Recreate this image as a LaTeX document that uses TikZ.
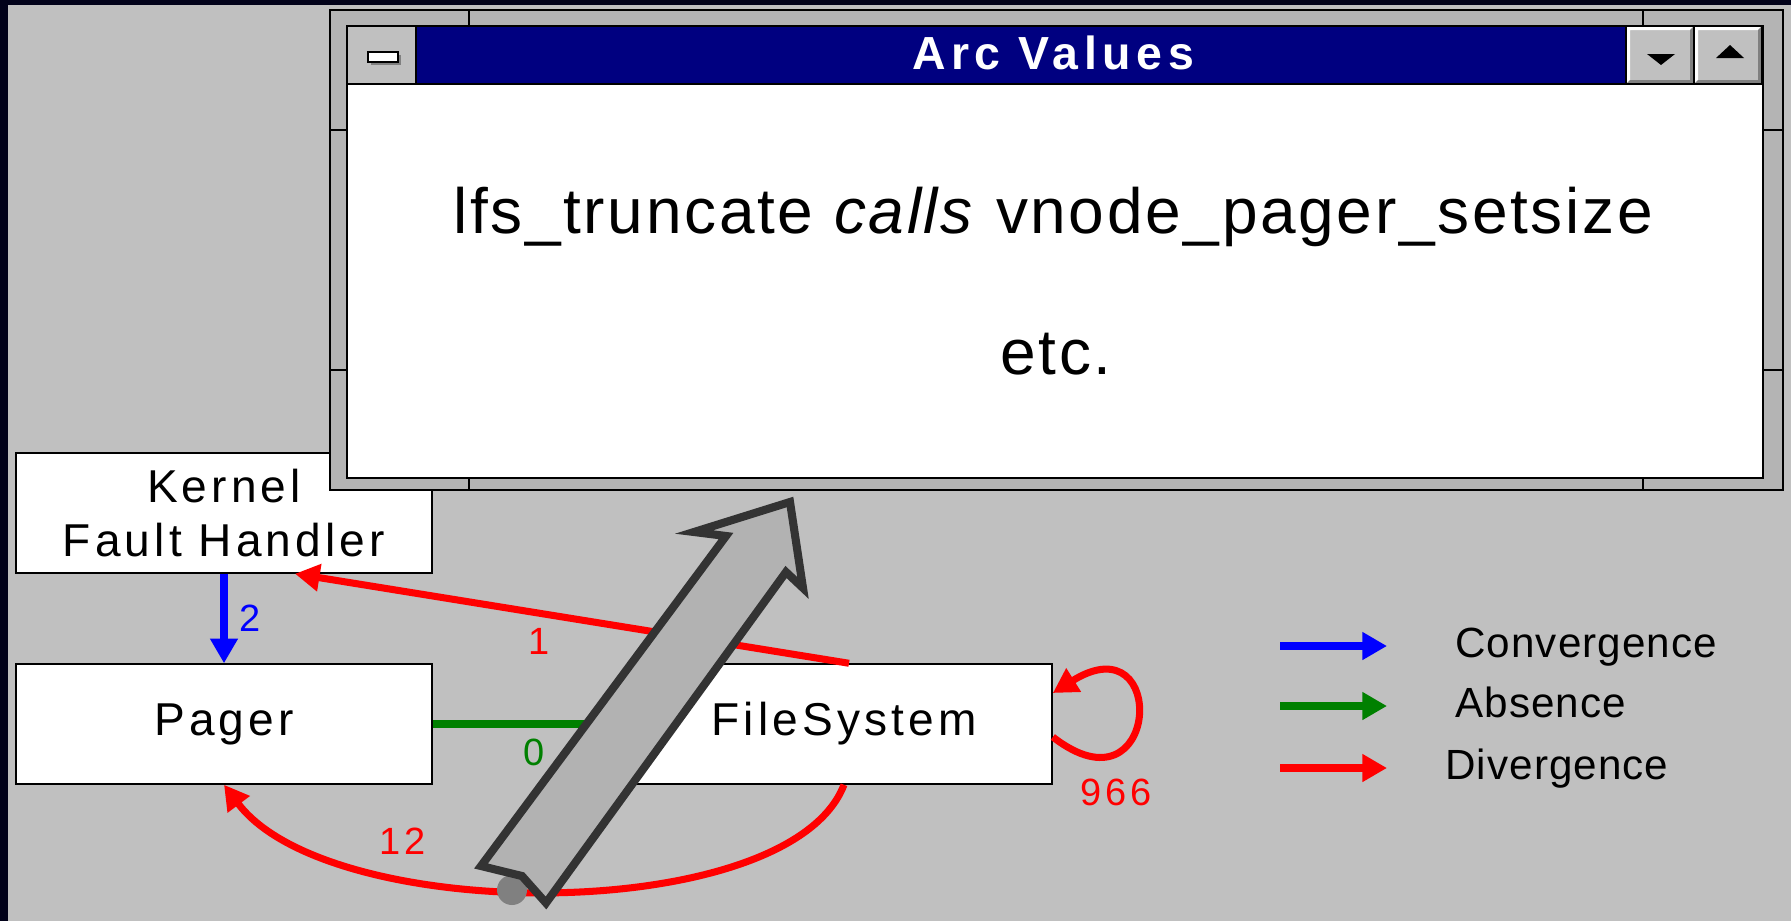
\documentclass[tikz,border=0pt]{standalone}
\usepackage{fontspec}
\setmainfont{Liberation Sans}
\newfontfamily\boxfont{Liberation Sans}[LetterSpace=9]
\newfontfamily\titlefont{Liberation Sans}[LetterSpace=12]
\newfontfamily\msgfont{Liberation Sans}[LetterSpace=4.2]
\newfontfamily\legfont{Liberation Sans}[LetterSpace=2.5]
\usetikzlibrary{arrows.meta,calc}
\definecolor{screen}{HTML}{C0C0C0}
\definecolor{framegray}{HTML}{B4B4B4}
\definecolor{edgedark}{HTML}{02021A}
\definecolor{titlenavy}{HTML}{000080}
\definecolor{convblue}{HTML}{0000FF}
\definecolor{absgreen}{HTML}{008000}
\definecolor{divred}{HTML}{FF0000}
\definecolor{pointer}{HTML}{333333}
\definecolor{pointerfill}{HTML}{B2B2B2}
\tikzset{%
  module/.style = {draw, fill=white, line width=0.4pt, minimum width=4.16cm,
    minimum height=1.2cm, align=center,
    font=\boxfont\fontsize{13.1}{15.6}\selectfont}, % Subsystem
  arc/.style    = {-{Triangle[length=7pt,width=7.5pt]}, line width=2pt}, % Arc
  count/.style  = {font=\boxfont\fontsize{10.8}{13}\selectfont} % Arc value
}

\begin{document}
\begin{tikzpicture}[x=0.01cm, y=-0.01cm]

    % Screen
    \useasboundingbox (0,0) rectangle (1791,921);
    \fill[screen] (0,0) rectangle (1791,921);
    \fill[edgedark] (0,0) rectangle (8,921);
    \fill[edgedark] (0,0) rectangle (1791,5);

    % Subsystems
    \node[module] (K) at (224,513) {Kernel\\Fault Handler};
    \node[module] (P) at (224,724) {Pager};
    \node[module] (FS) at (844,724) {FileSystem};

    % Arcs between subsystems
    \draw[arc, convblue] (K) -- (P) node[midway, right, count] {2};
    \draw[arc, divred] ($(FS.north)+(5,0)$) -- ($(K.south)+(71,0)$)
        node[pos=0.56, below, count] {1};
    \draw[arc, absgreen] (P) -- (FS) node[midway, below, count] {0};
    \draw[arc, divred] (FS.south) .. controls +(-54,141) and +(106,141) .. (P.south)
        node[pos=0.68, above, count, xshift=-2pt, yshift=2pt] {12};
    \draw[arc, divred] ($(FS.east)+(0,13)$) .. controls +(107,83) and +(117,-73) .. ($(FS.east)+(0,-31)$)
        node[pos=0.22, below, count, xshift=2pt, yshift=-2pt] {966};

    % Legend
    \foreach \col/\txt/\y/\x in {convblue/Convergence/646/1443,
                                 absgreen/Absence/706/1443,
                                 divred/Divergence/768/1433} {
        \coordinate (L-\txt) at (1280,\y);
        \node[anchor=base west, font=\legfont\fontsize{12}{14}\selectfont] (T-\txt) at (\x,\y+11) {\txt};
        \draw[arc, \col, line width=2.3pt] (L-\txt) -- ++(107,0);
    }

    % Arc Values window
    \filldraw[fill=framegray] (330,10) rectangle (1783,490);
    \foreach \x in {469,1643} {
        \draw (\x,10) -- (\x,26);
        \draw (\x,478) -- (\x,490);
    }
    \foreach \y in {130,370} {
        \draw (330,\y) -- (347,\y);
        \draw (1763,\y) -- (1783,\y);
    }
    \filldraw[fill=white] (347,26) rectangle (1763,478);
    \filldraw[fill=titlenavy] (416,26) rectangle (1626,84);
    \filldraw[fill=screen] (347,26) rectangle (416,84);
    \fill[gray] (371,55) rectangle (401,65);
    \filldraw[fill=white, line width=0.8pt] (368,52) rectangle (398,62);
    \foreach \bx in {1626,1694} {
        \fill[screen] (\bx,26) rectangle (\bx+68,84);
        \fill[white] (\bx,26) -- (\bx+68,26) -- (\bx+64,30) -- (\bx+4,30) -- (\bx+4,80) -- (\bx,84) -- cycle;
        \fill[gray] (\bx+68,84) -- (\bx,84) -- (\bx+4,80) -- (\bx+64,80) -- (\bx+64,30) -- (\bx+68,26) -- cycle;
        \draw (\bx,26) rectangle (\bx+68,84);
    }
    \fill (1647,54) -- (1675,54) -- (1661,65) -- cycle;
    \fill (1716,58) -- (1744,58) -- (1730,45) -- cycle;

    \node[text=white, font=\titlefont\bfseries\fontsize{13.2}{15}\selectfont] (title) at (1053,53) {Arc Values};
    \node[anchor=base, font=\msgfont\fontsize{18.2}{22}\selectfont] (msg) at (1053,233)
        {lfs\_truncate \textit{calls} vnode\_pager\_setsize};
    \node[anchor=base, font=\msgfont\fontsize{18.2}{22}\selectfont] (etc) at (1056,374) {etc.};

    % Pointer
    \fill[gray] (512,890) circle (0.15cm);
    \filldraw[draw=pointer, fill=pointerfill, line width=2.3pt]
        (790,502) -- (803,588) -- (786,572) -- (546,903) -- (522,876)
        -- (481,866) -- (726,536) -- (694,532) -- cycle;

\end{tikzpicture}
\end{document}
